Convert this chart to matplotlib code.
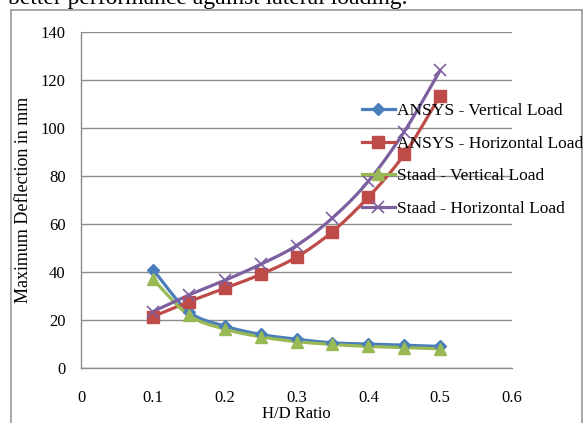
import numpy as np
import matplotlib
matplotlib.use("Agg")
import matplotlib.pyplot as plt
from matplotlib.lines import Line2D

hd_ratio = [0.1, 0.15, 0.2, 0.25, 0.3, 0.35, 0.4, 0.45, 0.5]
ansys_vertical = [41.0, 23.5, 17.5, 14.0, 12.0, 10.5, 10.0, 9.5, 9.0]
ansys_horizontal = [21.4, 27.6, 33.2, 39.0, 46.2, 56.8, 71.2, 89.0, 113.5]
staad_vertical = [37.0, 22.0, 16.2, 13.0, 11.0, 9.8, 9.0, 8.5, 8.0]
staad_horizontal = [23.5, 30.4, 36.5, 43.2, 51.0, 62.5, 77.8, 98.5, 124.0]

labels = ["ANSYS - Vertical Load", "ANSYS - Horizontal Load",
          "Staad - Vertical Load", "Staad - Horizontal Load"]
x_ticks = [0, 0.1, 0.2, 0.3, 0.4, 0.5, 0.6]
x_tick_labels = ["0", "0.1", "0.2", "0.3", "0.4", "0.5", "0.6"]
y_ticks = [0, 20, 40, 60, 80, 100, 120, 140]

plt.rcParams['font.family'] = ['Liberation Serif', 'DejaVu Serif']


def smooth(x, y, n=20):
    # Catmull-Rom rendering of the line between the data points
    x = np.asarray(x, float)
    y = np.asarray(y, float)
    px = np.concatenate([[2 * x[0] - x[1]], x, [2 * x[-1] - x[-2]]])
    py = np.concatenate([[2 * y[0] - y[1]], y, [2 * y[-1] - y[-2]]])
    xs, ys = [], []
    t = np.linspace(0, 1, n, endpoint=False)
    for i in range(1, len(px) - 2):
        for arr, out in ((px, xs), (py, ys)):
            p0, p1, p2, p3 = arr[i - 1], arr[i], arr[i + 1], arr[i + 2]
            out.extend(0.5 * ((2 * p1) + (-p0 + p2) * t
                              + (2 * p0 - 5 * p1 + 4 * p2 - p3) * t ** 2
                              + (-p0 + 3 * p1 - 3 * p2 + p3) * t ** 3))
    xs.append(x[-1]); ys.append(y[-1])
    return np.array(xs), np.array(ys)


W, H = 583, 423
fig = plt.figure(figsize=(W / 100, H / 100), dpi=100)
ax = fig.add_axes([81 / W, 1 - 368 / H, (512 - 81) / W, (368 - 32) / H])

series = [
    (ansys_vertical, '#4A7EBB', 'D', 6, 1.0),
    (ansys_horizontal, '#BE4B48', 's', 8, 1.0),
    (staad_vertical, '#98B954', '^', 9, 1.0),
    (staad_horizontal, '#7D60A0', 'x', 8, 1.2),
]
handles = []
for (vals, col, mk, ms, mew), lab in zip(series, labels):
    sx, sy = smooth(hd_ratio, vals)
    ax.plot(sx, sy, color=col, lw=2.3, solid_capstyle='round', zorder=3)
    ax.plot(hd_ratio, vals, linestyle='none', marker=mk, ms=ms,
            color=col, mec=col, mew=mew, zorder=4)
    handles.append(Line2D([], [], color=col, lw=2.3, marker=mk, ms=ms,
                          mec=col, mew=mew))

ax.set_xlim(0, 0.6)
ax.set_ylim(0, 140)
ax.set_xticks(x_ticks)
ax.set_xticklabels(x_tick_labels)
ax.set_yticks(y_ticks)
ax.grid(axis='y', color='#8C8C8C', lw=1.0)
ax.set_axisbelow(True)
for s in ['top', 'right']:
    ax.spines[s].set_visible(False)
for s in ['left', 'bottom']:
    ax.spines[s].set_color('#8C8C8C')
    ax.spines[s].set_linewidth(1.0)
ax.tick_params(axis='x', length=0, pad=16, labelsize=12)
ax.tick_params(axis='y', length=0, pad=11, labelsize=12)

ax.set_xlabel("H/D Ratio", fontsize=12, labelpad=0)
ax.set_ylabel("Maximum Deflection in mm", fontsize=13, labelpad=6)

fig.legend(handles, labels, loc='upper left',
           bbox_to_anchor=(362 / W, 1 - 103 / H), frameon=False,
           fontsize=12.5, borderpad=0, borderaxespad=0, handlelength=1.9,
           handletextpad=0.1, labelspacing=0.95)

# outer chart frame
frame_col = '#9A9A9A'
fig.add_artist(Line2D([11 / W, 11 / W], [0, 1 - 10 / H], color=frame_col,
                      lw=1.2, transform=fig.transFigure))
fig.add_artist(Line2D([11 / W, 581.5 / W], [1 - 10 / H, 1 - 10 / H],
                      color=frame_col, lw=1.2, transform=fig.transFigure))
fig.add_artist(Line2D([581.5 / W, 581.5 / W], [0, 1 - 10 / H],
                      color=frame_col, lw=1.2, transform=fig.transFigure))

fig.text(8 / W, 1 - 4 / H, "better performance against lateral loading.",
         fontsize=17, va='baseline', ha='left')

fig.savefig("out.png", dpi=100)
